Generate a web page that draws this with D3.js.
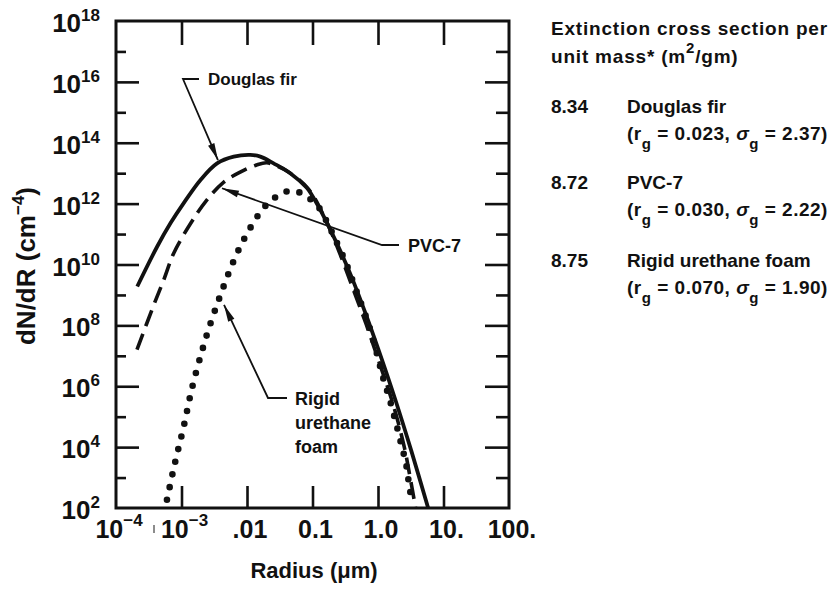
<!DOCTYPE html>
<html>
<head>
<meta charset="utf-8">
<script src="https://cdn.jsdelivr.net/npm/d3@7"></script>
<style>
  body { margin: 0; background: #fff; }
  svg { display: block; }
  text { font-family: "Liberation Sans", Arial, Helvetica, sans-serif; font-weight: bold; fill: #111; }
</style>
</head>
<body>
<svg id="chart" width="833" height="592"></svg>
<script>
// Size distributions: radius in µm, dN/dR in cm^-4
const firRadius  = [2.11e-4, 4.26e-4, 6.81e-4, 1.08e-3, 1.95e-3, 3.49e-3, 6.27e-3, 1.12e-2, 1.60e-2, 2.55e-2, 4.57e-2, 8.18e-2, 9.66e-2, 0.158, 0.249, 0.393, 0.664, 1.01, 1.84, 3.21, 5.83];
const firDensity = [1.89e9, 3.9e10, 2.29e11, 1.04e12, 6.0e12, 2.1e13, 3.5e13, 4.0e13, 3.5e13, 2.1e13, 1.0e13, 3.3e12, 2.0e12, 2.95e11, 3.8e10, 4.0e9, 2.1e8, 1.66e7, 3.6e5, 7.8e3, 1.0e2];

const pvcRadius  = [2.09e-4, 3.79e-4, 5.38e-4, 7.64e-4, 1.39e-3, 2.43e-3, 4.42e-3, 8.0e-3, 1.40e-2, 2.0e-2, 3.0e-2, 4.3e-2, 8.69e-2, 0.158, 0.249, 0.421, 0.664, 1.01, 1.71, 2.52, 3.0, 3.75];
const pvcDensity = [1.6e7, 4.8e8, 3.2e9, 2.4e10, 2.3e11, 1.3e12, 5.1e12, 1.1e13, 1.86e13, 2.2e13, 1.66e13, 1.1e13, 3.0e12, 3.0e11, 3.0e10, 1.48e9, 1.05e8, 7.4e6, 2.45e5, 1.0e4, 1.45e3, 1.0e2];

const foamRadius  = [6.0e-4, 7.91e-4, 1.08e-3, 1.44e-3, 2.04e-3, 2.70e-3, 3.70e-3, 5.07e-3, 7.21e-3, 1.10e-2, 1.79e-2, 2.64e-2, 3.88e-2, 5.90e-2, 8.69e-2, 0.123, 0.175, 0.224, 0.318, 0.421, 0.538, 0.713, 0.931, 1.19, 1.52, 1.95, 2.32, 2.67, 2.87, 3.08, 3.31];
const foamDensity = [1.86e2, 2.9e3, 4.7e4, 8.3e5, 1.35e7, 9.8e7, 6.9e8, 4.3e9, 2.6e10, 1.48e11, 7.2e11, 1.55e12, 2.45e12, 2.45e12, 1.55e12, 7.8e11, 2.0e11, 6.5e10, 1.23e10, 2.5e9, 6.0e8, 1.12e8, 1.55e7, 2.0e6, 3.5e5, 4.6e4, 1.0e4, 3.0e3, 1.05e3, 3.9e2, 1.5e2];

// Axis ticks and labels
const xTickValues = [1e-4, 1e-3, 1e-2, 1e-1, 1, 10, 100];
const xTickBase   = ["10", "10", ".01", "0.1", "1.0", "10.", "100."];
const xTickExp    = ["\u22124", "\u22123", "", "", "", "", ""];
const xInnerTicks = [1e-3, 1e-2, 1e-1, 1, 10];

const yTickValues = [1e2, 1e4, 1e6, 1e8, 1e10, 1e12, 1e14, 1e16, 1e18];
const yTickExp    = ["2", "4", "6", "8", "10", "12", "14", "16", "18"];
const yMajorInner = [1e4, 1e6, 1e8, 1e10, 1e12, 1e14, 1e16];
const yMinorInner = [1e3, 1e5, 1e7, 1e9, 1e11, 1e13, 1e15, 1e17];

// Side table
const tableValues = ["8.34", "8.72", "8.75"];
const tableNames  = ["Douglas fir", "PVC-7", "Rigid urethane foam"];
const tableRg     = ["0.023", "0.030", "0.070"];
const tableSigma  = ["2.37", "2.22", "1.90"];

const svg = d3.select("#chart");
const ink = "#111";

const plotLeft = 116, plotRight = 509, plotTop = 21, plotBottom = 508;
const x = d3.scaleLog().domain([1e-4, 100]).range([plotLeft, plotRight]);
const y = d3.scaleLog().domain([1e2, 1e18]).range([plotBottom, plotTop]);

svg.append("defs").append("clipPath").attr("id", "plotClip")
  .append("rect").attr("x", plotLeft).attr("y", plotTop - 2)
  .attr("width", plotRight - plotLeft).attr("height", plotBottom - plotTop + 1);

// Curves
const line = d3.line()
  .x(d => x(d[0])).y(d => y(d[1]))
  .curve(d3.curveCatmullRom.alpha(0.5));

const curves = svg.append("g").attr("clip-path", "url(#plotClip)");

curves.append("path")
  .attr("d", line(d3.zip(foamRadius, foamDensity)))
  .attr("fill", "none").attr("stroke", ink)
  .attr("stroke-width", 6.6).attr("stroke-linecap", "round")
  .attr("stroke-dasharray", "0 13");

curves.append("path")
  .attr("d", line(d3.zip(pvcRadius, pvcDensity)))
  .attr("fill", "none").attr("stroke", ink)
  .attr("stroke-width", 3.6).attr("stroke-dasharray", "17 8");

curves.append("path")
  .attr("d", line(d3.zip(firRadius, firDensity)))
  .attr("fill", "none").attr("stroke", ink)
  .attr("stroke-width", 3.8).attr("stroke-linejoin", "round");

// Frame
svg.append("rect")
  .attr("x", plotLeft).attr("y", plotTop)
  .attr("width", plotRight - plotLeft).attr("height", plotBottom - plotTop)
  .attr("fill", "none").attr("stroke", ink).attr("stroke-width", 3);

// Inward ticks on all four sides
function ticks(axis, tx, ty) {
  const g = svg.append("g").attr("transform", `translate(${tx},${ty})`).call(axis);
  g.select(".domain").remove();
  g.selectAll(".tick line").attr("stroke", ink).attr("stroke-width", 2.6);
  g.selectAll(".tick text").remove();
}
ticks(d3.axisBottom(x).tickValues(xInnerTicks).tickSize(-22), 0, plotBottom);
ticks(d3.axisTop(x).tickValues(xInnerTicks).tickSize(-24), 0, plotTop);
ticks(d3.axisLeft(y).tickValues(yMajorInner).tickSize(-23), plotLeft, 0);
ticks(d3.axisLeft(y).tickValues(yMinorInner).tickSize(-10), plotLeft, 0);
ticks(d3.axisRight(y).tickValues(yMajorInner).tickSize(-24), plotRight, 0);
ticks(d3.axisRight(y).tickValues(yMinorInner).tickSize(-13), plotRight, 0);

// Y tick labels
yTickValues.forEach((v, i) => {
  const t = svg.append("text")
    .attr("x", 100).attr("y", y(v) + 11)
    .attr("text-anchor", "end").style("font-size", "26px");
  t.append("tspan").text("10");
  t.append("tspan").attr("dy", -11).style("font-size", "17px").text(yTickExp[i]);
});

// X tick labels
xTickValues.forEach((v, i) => {
  const t = svg.append("text")
    .attr("x", x(v) + 3).attr("y", 538)
    .attr("text-anchor", "middle").style("font-size", "25px");
  t.append("tspan").text(xTickBase[i]);
  if (xTickExp[i]) {
    t.append("tspan").attr("dy", -12).style("font-size", "17px").text(xTickExp[i]);
  }
});
svg.append("line")
  .attr("x1", 154).attr("x2", 154).attr("y1", 525).attr("y2", 533)
  .attr("stroke", "#666").attr("stroke-width", 1.5);

// Axis titles
svg.append("text")
  .attr("x", 314).attr("y", 578).attr("text-anchor", "middle")
  .style("font-size", "22px").text("Radius (\u03bcm)");

const yTitle = svg.append("text")
  .attr("transform", "translate(35,266) rotate(-90)")
  .attr("text-anchor", "middle").style("font-size", "26px");
yTitle.append("tspan").text("dN/dR (cm");
yTitle.append("tspan").attr("dy", -11).style("font-size", "17px").text("\u22124");
yTitle.append("tspan").attr("dy", 11).text(")");

// Callouts with arrows pointing at each curve
function callout(elbowX, elbowY, barEnd, tipR, tipN) {
  const tx = x(tipR), ty = y(tipN);
  const g = svg.append("g");
  g.append("polyline")
    .attr("points", `${barEnd},${elbowY} ${elbowX},${elbowY} ${tx},${ty}`)
    .attr("fill", "none").attr("stroke", ink).attr("stroke-width", 1.8);
  const ang = Math.atan2(elbowY - ty, elbowX - tx);
  const len = 17, hw = 3.4;
  const bx = tx + len * Math.cos(ang), by = ty + len * Math.sin(ang);
  const px = -Math.sin(ang) * hw, py = Math.cos(ang) * hw;
  g.append("polygon")
    .attr("points", `${tx},${ty} ${bx + px},${by + py} ${bx - px},${by - py}`)
    .attr("fill", ink);
}
callout(183, 79, 199, 3.6e-3, 2.7e13);
callout(382, 245, 399, 4.15e-3, 3.2e12);
callout(268, 398, 287, 4.46e-3, 4.7e8);

svg.append("text").attr("x", 208).attr("y", 85).style("font-size", "17px").text(tableNames[0]);
svg.append("text").attr("x", 408).attr("y", 252).style("font-size", "18px").text(tableNames[1]);
const foamLabel = svg.append("text").attr("x", 295).attr("y", 405).style("font-size", "18px");
["Rigid", "urethane", "foam"].forEach((w, i) => {
  foamLabel.append("tspan").attr("x", 295).attr("dy", i === 0 ? 0 : 24).text(w);
});

// Side table
const side = svg.append("g").style("font-size", "19px");
side.append("text").attr("x", 551).attr("y", 35).style("letter-spacing", "0.8px")
  .text("Extinction cross section per");
const unitLine = side.append("text").attr("x", 551).attr("y", 63).style("letter-spacing", "0.8px");
unitLine.append("tspan").text("unit mass* (m");
unitLine.append("tspan").attr("dy", -10).style("font-size", "15px").text("2");
unitLine.append("tspan").attr("dy", 10).text("/gm)");

const rowY = [113, 189, 267];
tableValues.forEach((v, i) => {
  side.append("text").attr("x", 551).attr("y", rowY[i]).text(v);
  side.append("text").attr("x", 627).attr("y", rowY[i]).text(tableNames[i]);
  const p = side.append("text").attr("x", 627).attr("y", rowY[i] + 27)
    .style("letter-spacing", "0.5px");
  p.append("tspan").text("(r");
  p.append("tspan").attr("dy", 9).style("font-size", "15px").text("g");
  p.append("tspan").attr("dy", -9).text(" = " + tableRg[i] + ", ");
  p.append("tspan").style("font-style", "italic").text("\u03c3");
  p.append("tspan").attr("dy", 9).style("font-size", "15px").text("g");
  p.append("tspan").attr("dy", -9).text(" = " + tableSigma[i] + ")");
});
</script>
</body>
</html>
